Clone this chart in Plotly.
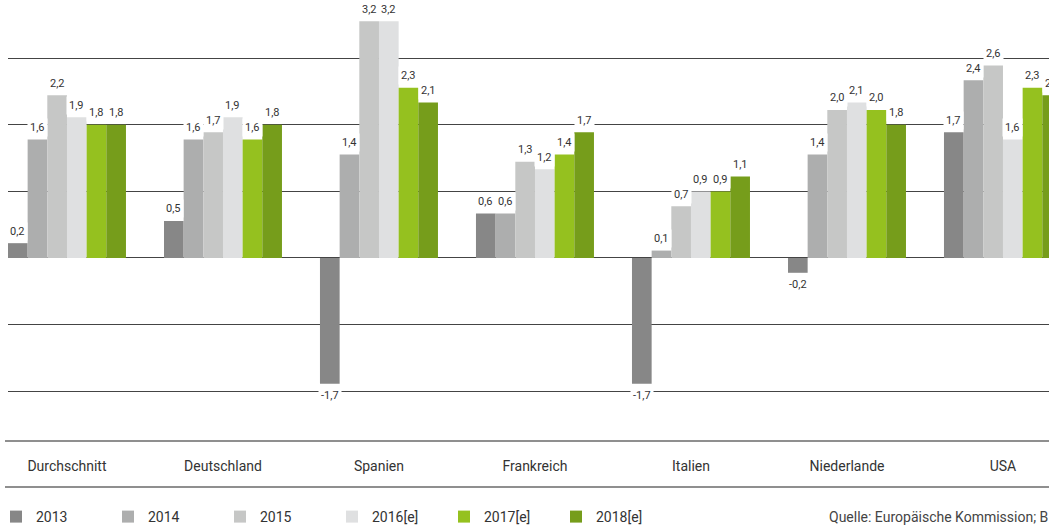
import plotly.graph_objects as go

categories = ["Durchschnitt", "Deutschland", "Spanien", "Frankreich", "Italien", "Niederlande", "USA"]
years = ["2013", "2014", "2015", "2016[e]", "2017[e]", "2018[e]"]
v2013 = [0.2, 0.5, -1.7, 0.6, -1.7, -0.2, 1.7]
v2014 = [1.6, 1.6, 1.4, 0.6, 0.1, 1.4, 2.4]
v2015 = [2.2, 1.7, 3.2, 1.3, 0.7, 2.0, 2.6]
v2016 = [1.9, 1.9, 3.2, 1.2, 0.9, 2.1, 1.6]
v2017 = [1.8, 1.6, 2.3, 1.4, 0.9, 2.0, 2.3]
v2018 = [1.8, 1.8, 2.1, 1.7, 1.1, 1.8, 2.2]
series = [v2013, v2014, v2015, v2016, v2017, v2018]
colors = ["#878787", "#adaeae", "#c6c7c6", "#dfe0e1", "#95c11f", "#769d1b"]

W, H = 1049, 526
ML, MR, MT, MB = 8, 0, 0, 85
BARGAP = 0.2436
XR = [-0.378, 6.295]
YR = [-2.473, 3.486]

fig = go.Figure()
for name, vals, col in zip(years, series, colors):
    fig.add_trace(go.Bar(x=categories, y=vals, name=name, marker=dict(color=col, line=dict(width=0))))

plot_w = W - ML - MR
plot_h = H - MT - MB
cat_px = plot_w / (XR[1] - XR[0])
bar_px = cat_px * (1 - BARGAP) / len(series)

ann = []
for j, vals in enumerate(series):
    for cat, v in zip(categories, vals):
        ann.append(dict(
            x=cat, y=v, xref="x", yref="y", showarrow=False,
            text=f"{v:.1f}".replace(".", ","),
            xshift=(j - (len(series) - 1) / 2) * bar_px,
            yshift=12 if v >= 0 else -12, yanchor="middle",
            bgcolor="white", borderpad=2,
            font=dict(family="Roboto", size=11, color="#333333"),
        ))
ann.append(dict(
    x=(828 - ML) / plot_w, y=(H - MB - 517) / plot_h, xref="paper", yref="paper",
    xanchor="left", yanchor="middle", showarrow=False, borderpad=0,
    text="Quelle: Europäische Kommission; B",
    font=dict(family="Roboto", size=14, color="#444444"),
))

shapes = [
    dict(type="line", xref="paper", yref="paper", x0=-3 / plot_w, x1=1, y0=0, y1=0,
         line=dict(color="#6a6a6a", width=1.5)),
    dict(type="line", xref="paper", yref="paper", x0=-3 / plot_w, x1=1,
         y0=-(487 - (H - MB)) / plot_h, y1=-(487 - (H - MB)) / plot_h,
         line=dict(color="#6a6a6a", width=1.5)),
]

fig.update_layout(
    width=W, height=H,
    margin=dict(l=ML, r=MR, t=MT, b=MB, pad=0, autoexpand=False),
    plot_bgcolor="white", paper_bgcolor="white",
    barmode="group", bargap=BARGAP, bargroupgap=0,
    font=dict(family="Roboto", color="#333333"),
    xaxis=dict(type="category", range=XR, showgrid=False, showline=False, ticks="",
               tickfont=dict(family="Roboto", size=14, color="#333333"),
               ticklabelstandoff=15, fixedrange=True),
    yaxis=dict(range=YR, tick0=0, dtick=0.9, showticklabels=False,
               showgrid=True, gridcolor="#444444", gridwidth=1,
               zeroline=True, zerolinecolor="#444444", zerolinewidth=1, fixedrange=True),
    legend=dict(orientation="h", xref="paper", yref="paper",
                x=(-4 - ML) / plot_w, y=(H - MB - 517) / plot_h, xanchor="left", yanchor="middle",
                entrywidth=67, entrywidthmode="pixels",
                font=dict(family="Roboto", size=14, color="#333333"),
                bgcolor="rgba(0,0,0,0)", borderwidth=0, traceorder="normal"),
    annotations=ann, shapes=shapes,
)

fig.write_html("out.html")
